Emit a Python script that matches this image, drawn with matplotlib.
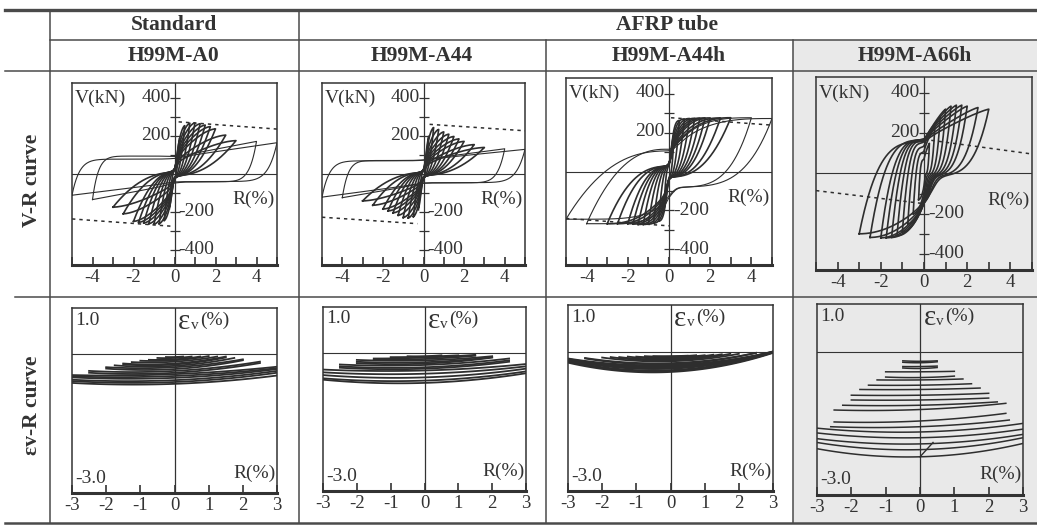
import matplotlib
matplotlib.use("Agg")
import matplotlib.pyplot as plt
import numpy as np

plt.rcParams["font.family"] = ["Liberation Serif", "DejaVu Serif"]

W, H = 1037, 525
INK = "#333333"
RULE = "#4a4a4a"
PEN = "#2e2e2e"

# ---- table text ----------------------------------------------------------
GROUPS = ["Standard", "AFRP tube"]
SPECIMENS = ["H99M-A0", "H99M-A44", "H99M-A44h", "H99M-A66h"]
ROWS = ["V-R curve", "\u03b5v-R curve"]

# ---- V-R hysteresis: drift amplitude (%) and peak shear (kN) per cycle ----
R_AMP = [0.25, 0.5, 0.75, 1.0, 1.25, 1.5, 1.75, 2.0, 2.5, 3.0, 4.0, 5.0]
V_POS_A0 = [190, 255, 268, 270, 265, 258, 250, 238, 205, 176, 172, 165]
V_NEG_A0 = [-185, -245, -262, -265, -262, -258, -255, -250, -210, -175, -135, -112]
V_POS_A44 = [200, 245, 235, 222, 210, 198, 185, 172, 155, 140, 133, 130]
V_NEG_A44 = [-190, -225, -232, -230, -218, -205, -195, -185, -165, -142, -125, -122]
V_POS_A44H = [200, 262, 270, 272, 273, 274, 275, 275, 275, 276, 276, 272]
V_NEG_A44H = [-200, -255, -265, -270, -272, -272, -270, -268, -268, -268, -268, -245]
R_AMP_A66H = [0.25, 0.5, 0.75, 1.0, 1.25, 1.5, 1.75, 2.0, 2.5, 3.0]
V_POS_A66H = [150, 230, 280, 320, 335, 340, 340, 335, 328, 320]
V_NEG_A66H = [-130, -200, -250, -290, -310, -318, -320, -320, -318, -300]
THIN_FROM = [10, 10, 10, 99]  # first cycle drawn with the thin pen

# dashed strength lines (R, V) end points
DASH_UP = [[(0.2, 275), (5, 237)], [(0.3, 262), (5, 228)],
           [(0.1, 276), (5, 238)], [(0.0, 170), (5, 97)]]
DASH_LO = [[(-5, -237), (-0.2, -275)], [(-5, -228), (-0.3, -262)],
           [(-5, -241), (0.0, -279)], [(-5, -85), (0.0, -150)]]

# ---- Ev-R curves: (half extent R, Ev at left end, at R=0, at right end) ----
EV_A0 = [(0.25, -0.06, -0.06, -0.05), (0.5, -0.08, -0.08, -0.05),
         (0.75, -0.12, -0.11, -0.05), (1.0, -0.14, -0.13, -0.04),
         (1.25, -0.17, -0.16, -0.05), (1.5, -0.20, -0.20, -0.05),
         (1.5, -0.22, -0.22, -0.07), (1.75, -0.24, -0.25, -0.08),
         (2.0, -0.28, -0.28, -0.11), (2.0, -0.31, -0.32, -0.13),
         (2.5, -0.36, -0.36, -0.16), (2.5, -0.40, -0.40, -0.19),
         (3.0, -0.45, -0.43, -0.27), (3.0, -0.48, -0.47, -0.30),
         (3.0, -0.50, -0.51, -0.32), (3.0, -0.55, -0.56, -0.36),
         (3.0, -0.58, -0.60, -0.40), (3.0, -0.62, -0.64, -0.46)]
EV_A44 = [(0.5, -0.07, -0.07, -0.05), (1.0, -0.09, -0.08, -0.05),
          (1.5, -0.12, -0.10, -0.04), (1.5, -0.15, -0.13, -0.06),
          (2.0, -0.15, -0.16, -0.07), (2.0, -0.19, -0.20, -0.09),
          (2.0, -0.22, -0.23, -0.10), (2.5, -0.25, -0.26, -0.12),
          (2.5, -0.29, -0.31, -0.16), (2.5, -0.32, -0.34, -0.19),
          (3.0, -0.36, -0.38, -0.24), (3.0, -0.42, -0.45, -0.29),
          (3.0, -0.48, -0.53, -0.34), (3.0, -0.55, -0.60, -0.40),
          (3.0, -0.58, -0.65, -0.44)]
EV_A44H = [(0.5, -0.10, -0.10, -0.09), (0.75, -0.10, -0.11, -0.08),
           (1.0, -0.11, -0.13, -0.08), (1.25, -0.11, -0.15, -0.07),
           (1.5, -0.12, -0.17, -0.06), (1.75, -0.12, -0.19, -0.05),
           (2.0, -0.13, -0.21, -0.05), (2.5, -0.14, -0.25, -0.03),
           (2.5, -0.15, -0.27, -0.03), (3.0, -0.15, -0.29, -0.01),
           (3.0, -0.16, -0.31, 0.00), (3.0, -0.17, -0.33, 0.00),
           (3.0, -0.18, -0.35, -0.01), (3.0, -0.19, -0.37, -0.01),
           (3.0, -0.21, -0.40, -0.02), (3.0, -0.22, -0.42, -0.02),
           (3.0, -0.24, -0.44, -0.03)]
EV_A66H = [(0.5, -0.19, -0.20, -0.19), (0.5, -0.22, -0.23, -0.21),
           (0.5, -0.31, -0.31, -0.30), (0.5, -0.34, -0.35, -0.33),
           (1.0, -0.42, -0.42, -0.41), (1.0, -0.53, -0.54, -0.51),
           (1.25, -0.59, -0.59, -0.57), (1.5, -0.70, -0.70, -0.67),
           (1.75, -0.79, -0.79, -0.76), (2.0, -0.91, -0.91, -0.87),
           (2.0, -1.01, -1.01, -0.97), (2.25, -1.12, -1.12, -1.05),
           (2.5, -1.22, -1.21, -1.08), (2.5, -1.47, -1.45, -1.29),
           (2.6, -1.57, -1.57, -1.43), (3.0, -1.60, -1.68, -1.50),
           (3.0, -1.70, -1.80, -1.62), (3.0, -1.82, -1.93, -1.73),
           (3.0, -1.90, -2.05, -1.80), (3.0, -2.03, -2.20, -1.92)]
EV_START_A66H = [(0.0, -2.20), (0.38, -1.90)]

# loop shape: fa/fb = shear level either side of the pinch (fraction of peak),
# q = unloading convexity, p = reloading concavity, rc/w = pinch centre/width
DARK = dict(fa=-.05, fb=.3, q=2.2, p=1.6, rc=.08, w=.12,
            fa2=-.05, fb2=.3, q2=2.2, p2=1.6, rc2=-.08, w2=.12, scale=False)
SHAPE = [
    {"dark": DARK,
     "thin": dict(fa=-.7, fb=.52, q=14, p=1.0, rc=0., w=.5,
                  fa2=-.24, fb2=.4, q2=12, p2=1.0, rc2=0., w2=.5, scale=False)},
    {"dark": DARK,
     "thin": dict(fa=-.57, fb=.58, q=14, p=1.0, rc=0., w=.5,
                  fa2=-.35, fb2=.41, q2=12, p2=1.0, rc2=0., w2=.5, scale=False)},
    {"dark": dict(fa=-.1, fb=.35, q=2.6, p=2.4, rc=.08, w=.12,
                  fa2=-.1, fb2=.35, q2=2.6, p2=2.4, rc2=-.08, w2=.12, scale=False),
     "thin": dict(fa=-.43, fb=.4, q=2.5, p=3.0, rc=.2, w=.5,
                  fa2=-.29, fb2=.6, q2=4.0, p2=5.0, rc2=.1, w2=.3, scale=False)},
    {"dark": dict(fa=-.52, fb=.52, q=3.5, p=1.2, rc=0., w=.3,
                  fa2=-.03, fb2=.5, q2=4.5, p2=2.0, rc2=.4, w2=.35, scale=True)},
]

VR_BOX = [(72, 83, 277, 265), (322, 83, 525, 265), (566, 78, 772, 265), (816, 77, 1032, 270)]
EV_BOX = [(72, 308, 277, 493), (323, 307, 526, 491), (568, 305, 773, 491), (817, 304, 1023, 495)]


def loop(r, vp, vn, s, n=300):
    k = r / 3.0 if s["scale"] else 1.0
    # branch travelling from the negative peak to the positive peak
    R = np.linspace(-r, r, n)
    va, vb = s["fa"] * vn, s["fb"] * vp
    neg = va + (vn - va) * np.clip(-R / r, 0, 1) ** s["q"]
    pos = vb + (vp - vb) * (1 - np.clip(1 - R / r, 0, 1) ** s["p"])
    h = 0.5 * (1 + np.tanh((R - s["rc"] * k) / (s["w"] * k)))
    up = neg * (1 - h) + pos * h
    # branch travelling back from the positive peak to the negative peak
    R2 = R[::-1]
    va, vb = s["fa2"] * vp, s["fb2"] * vn
    pos = va + (vp - va) * np.clip(R2 / r, 0, 1) ** s["q2"]
    neg = vb + (vn - vb) * (1 - np.clip(1 + R2 / r, 0, 1) ** s["p2"])
    h = 0.5 * (1 + np.tanh((R2 - s["rc2"] * k) / (s["w2"] * k)))
    dn = pos * h + neg * (1 - h)
    return np.concatenate([R, R2]), np.concatenate([up, dn])


def ev_curve(ext, yl, yc, yr, n=80):
    x = np.linspace(-ext, ext, n)
    b = (yr - yl) / (2 * ext)
    a = ((yl + yr) / 2 - yc) / ext ** 2
    return x, yc + b * x + a * x * x


def box_axes(fig, box):
    x0, y0, x1, y1 = box
    ax = fig.add_axes([x0 / W, 1 - y1 / H, (x1 - x0) / W, (y1 - y0) / H])
    ax.set_facecolor("none")
    for side, sp in ax.spines.items():
        sp.set_color(INK)
        sp.set_linewidth(2.2 if side == "bottom" else 1.1)
    return ax


def style_vr(ax):
    ax.set_xlim(-5, 5)
    ax.set_ylim(-480, 480)
    ax.set_xticks(range(-5, 6))
    ax.set_xticklabels(["", "-4", "", "-2", "", "0", "", "2", "", "4", ""])
    ax.set_yticks([])
    ax.tick_params(axis="x", direction="in", length=6, width=1.2, pad=3,
                   labelsize=13.5, colors=INK)
    ax.axhline(0, color=INK, lw=0.8)
    ax.axvline(0, color=INK, lw=0.9)
    yt = [-400, -300, -200, -100, 100, 200, 300, 400]
    ax.plot(np.zeros(len(yt)), yt, ls="none", marker="_", ms=7, mew=0.9, color=INK)
    kw = dict(fontsize=14, color=INK, va="center")
    ax.text(-4.85, 400, "V(kN)", ha="left", **kw)
    ax.text(-0.2, 405, "400", ha="right", **kw)
    ax.text(-0.2, 205, "200", ha="right", **kw)
    ax.text(0.2, -200, "-200", ha="left", **kw)
    ax.text(0.2, -400, "-400", ha="left", **kw)
    ax.text(4.9, -135, "R(%)", ha="right", **kw)


def style_ev(ax):
    ax.set_xlim(-3, 3)
    ax.set_ylim(-3, 1)
    ax.set_xticks(range(-3, 4))
    ax.set_xticklabels([str(t) for t in range(-3, 4)])
    ax.set_yticks([])
    ax.tick_params(axis="x", direction="in", length=6, width=1.2, pad=3,
                   labelsize=13.5, colors=INK)
    ax.axhline(0, color=INK, lw=0.8)
    ax.axvline(0, color=INK, lw=0.9)
    kw = dict(fontsize=14, color=INK, va="center")
    ax.text(-2.9, 0.74, "1.0", ha="left", **kw)
    ax.text(0.1, 0.70, "\u03b5", ha="left", fontsize=21, color=INK, va="center")
    ax.text(0.47, 0.63, "v", ha="left", fontsize=11, color=INK, va="center")
    ax.text(0.74, 0.74, "(%)", ha="left", **kw)
    ax.text(-2.9, -2.68, "-3.0", ha="left", **kw)
    ax.text(2.97, -2.57, "R(%)", ha="right", **kw)


fig = plt.figure(figsize=(W / 100, H / 100), dpi=100, facecolor="white")

# table frame
bg = fig.add_axes([0, 0, 1, 1])
bg.set_xlim(0, W)
bg.set_ylim(H, 0)
bg.axis("off")
bg.add_patch(plt.Rectangle((793, 40), W - 793, 484, facecolor="#e9e9e9", edgecolor="none"))
bg.plot([5, W], [10, 10], color=RULE, lw=2.4)
bg.plot([50, W], [40, 40], color=RULE, lw=1.1)
bg.plot([5, W], [71, 71], color=RULE, lw=1.1)
bg.plot([15, W], [297, 297], color=RULE, lw=1.1)
bg.plot([5, W], [523, 523], color=RULE, lw=1.8)
bg.plot([50, 50], [10, 523], color=RULE, lw=1.1)
bg.plot([299, 299], [10, 523], color=RULE, lw=1.1)
bg.plot([546, 546], [40, 523], color=RULE, lw=1.1)
bg.plot([793, 793], [40, 523], color=RULE, lw=1.1)

hkw = dict(fontsize=15.5, fontweight="bold", color=INK, ha="center", va="center")
bg.text(174, 25, GROUPS[0], **hkw)
bg.text(667, 25, GROUPS[1], **hkw)
for cx, name in zip([174, 422, 669, 915], SPECIMENS):
    bg.text(cx, 56, name, **hkw)
bg.text(32, 180, ROWS[0], rotation=90, **hkw)
bg.text(32, 405, ROWS[1], rotation=90, **hkw)

# V-R panels
panels = [(R_AMP, V_POS_A0, V_NEG_A0), (R_AMP, V_POS_A44, V_NEG_A44),
          (R_AMP, V_POS_A44H, V_NEG_A44H), (R_AMP_A66H, V_POS_A66H, V_NEG_A66H)]
for i, (amps, vps, vns) in enumerate(panels):
    ax = box_axes(fig, VR_BOX[i])
    style_vr(ax)
    for j, (r, vp, vn) in enumerate(zip(amps, vps, vns)):
        thin = j >= THIN_FROM[i]
        s = SHAPE[i]["thin" if thin else "dark"]
        x, y = loop(r, vp, vn, s)
        ax.plot(x, y, color=PEN, lw=0.8 if thin else 1.2, solid_joinstyle="round")
    for seg in (DASH_UP[i], DASH_LO[i]):
        xs, ys = zip(*seg)
        ax.plot(xs, ys, color=PEN, lw=1.1, ls=(0, (2.2, 2.6)))

# Ev-R panels
for i, rows in enumerate([EV_A0, EV_A44, EV_A44H, EV_A66H]):
    ax = box_axes(fig, EV_BOX[i])
    style_ev(ax)
    for ext, yl, yc, yr in rows:
        x, y = ev_curve(ext, yl, yc, yr)
        ax.plot(x, y, color=PEN, lw=1.3 if i < 3 else 1.1)
    if i == 3:
        xs, ys = zip(*EV_START_A66H)
        ax.plot(xs, ys, color=PEN, lw=1.0)

fig.savefig("out.png", dpi=100, facecolor="white")
